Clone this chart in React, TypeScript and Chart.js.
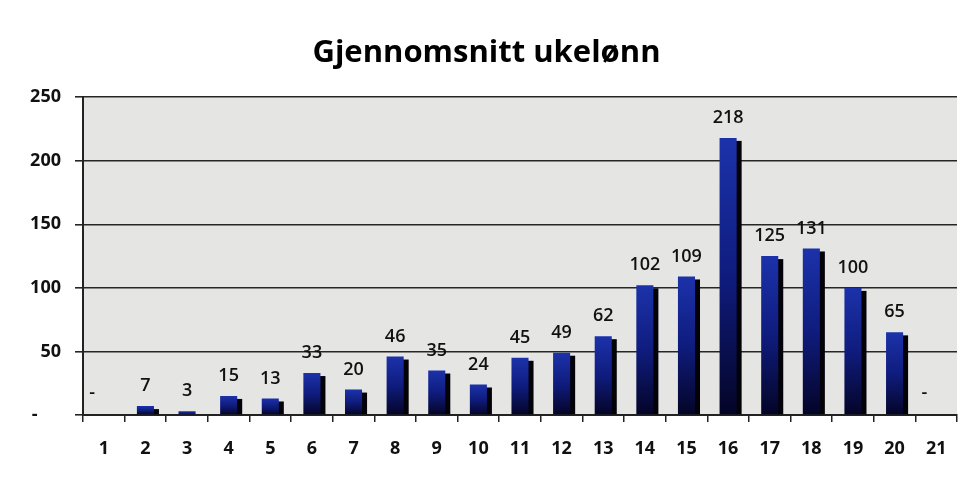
import { useEffect, useRef } from 'react';
import { Chart, registerables } from 'chart.js';

Chart.register(...registerables);

const weeks = ['1', '2', '3', '4', '5', '6', '7', '8', '9', '10', '11', '12', '13', '14', '15', '16', '17', '18', '19', '20', '21'];
const avgWage = [0, 7, 3, 15, 13, 33, 20, 46, 35, 24, 45, 49, 62, 102, 109, 218, 125, 131, 100, 65, 0];
const yTicks = [0, 50, 100, 150, 200, 250];

const FONT = '"Open Sans", "Liberation Sans", sans-serif';

// grey plot background
const plotBg = {
  id: 'plotBg',
  beforeDraw(chart: Chart) {
    const { ctx, chartArea: a } = chart;
    ctx.save();
    ctx.fillStyle = '#e5e5e3';
    ctx.fillRect(a.left, a.top, a.right - a.left, a.bottom - a.top);
    ctx.restore();
  },
};

// black side shadow behind each bar
const barShadow = {
  id: 'barShadow',
  beforeDatasetsDraw(chart: Chart) {
    const { ctx } = chart;
    const meta = chart.getDatasetMeta(0);
    ctx.save();
    ctx.fillStyle = '#020208';
    meta.data.forEach((el: any) => {
      const h = el.base - el.y;
      if (h <= 3) return;
      ctx.fillRect(el.x + el.width / 2 - 1, el.y + 3, 6, h - 3);
    });
    ctx.restore();
  },
};

// value labels above bars, '-' for zero
const valueLabels = {
  id: 'valueLabels',
  afterDatasetsDraw(chart: Chart) {
    const { ctx } = chart;
    const meta = chart.getDatasetMeta(0);
    ctx.save();
    ctx.font = `600 18px ${FONT}`;
    ctx.fillStyle = '#111';
    ctx.textAlign = 'center';
    ctx.textBaseline = 'middle';
    meta.data.forEach((el: any, i: number) => {
      const v = avgWage[i];
      const txt = v === 0 ? '-     ' : String(v);
      ctx.fillText(txt, el.x, el.y - (v === 0 ? 22 : 20));
    });
    ctx.restore();
  },
};

export default function App() {
  const canvasRef = useRef<HTMLCanvasElement>(null);
  const chartRef = useRef<Chart | null>(null);

  useEffect(() => {
    if (!canvasRef.current) return;
    chartRef.current?.destroy();

    chartRef.current = new Chart(canvasRef.current, {
      type: 'bar',
      data: {
        labels: weeks,
        datasets: [
          {
            data: avgWage,
            backgroundColor: (c: any) => {
              const chart = c.chart;
              const ys = chart.scales?.y;
              if (!ys || c.raw === undefined) return '#10208a';
              const top = ys.getPixelForValue(c.raw);
              const base = ys.getPixelForValue(0);
              if (!isFinite(top) || !isFinite(base) || base - top < 1) return '#10208a';
              const g = chart.ctx.createLinearGradient(0, top, 0, base);
              g.addColorStop(0, '#1c32aa');
              g.addColorStop(0.5, '#0f1c7e');
              g.addColorStop(1, '#040426');
              return g;
            },
            borderWidth: 0,
            categoryPercentage: 1,
            barPercentage: 0.41,
          },
        ],
      },
      options: {
        responsive: true,
        maintainAspectRatio: false,
        animation: false,
        layout: { padding: { left: 16, right: 23, top: 0, bottom: 0 } },
        plugins: {
          legend: { display: false },
          tooltip: { enabled: false },
          title: {
            display: true,
            text: 'Gjennomsnitt ukelønn',
            color: '#000',
            font: { family: FONT, size: 31, weight: 'bold', lineHeight: 1.2 },
            padding: { top: 35, bottom: 25 },
          },
        },
        scales: {
          x: {
            grid: {
              display: true,
              offset: true,
              drawOnChartArea: false,
              drawTicks: true,
              tickLength: 7,
              color: '#222',
              lineWidth: 1.5,
            },
            border: { display: true, color: '#222', width: 2 },
            ticks: {
              color: '#111',
              font: { family: FONT, size: 18, weight: 'bold' },
              padding: 16,
              maxRotation: 0,
              autoSkip: false,
            },
            afterFit: (s: any) => {
              s.height = 75;
            },
          },
          y: {
            min: 0,
            max: 250,
            afterBuildTicks: (s: any) => {
              s.ticks = yTicks.map((v) => ({ value: v }));
            },
            grid: {
              color: '#262626',
              lineWidth: 1.6,
              tickLength: 8,
              drawTicks: true,
            },
            border: { display: true, color: '#222', width: 2 },
            ticks: {
              color: '#111',
              font: { family: FONT, size: 18, weight: 'bold' },
              padding: 14,
              callback: (v: any) => (Number(v) === 0 ? '-     ' : String(v)),
            },
            afterFit: (s: any) => {
              s.width = 67;
            },
          },
        },
      },
      plugins: [plotBg, barShadow, valueLabels],
    });

    return () => {
      chartRef.current?.destroy();
      chartRef.current = null;
    };
  }, []);

  return (
    <div style={{ position: 'fixed', left: 0, top: 0, width: 980, height: 490, background: '#fff' }}>
      <canvas ref={canvasRef} />
    </div>
  );
}
